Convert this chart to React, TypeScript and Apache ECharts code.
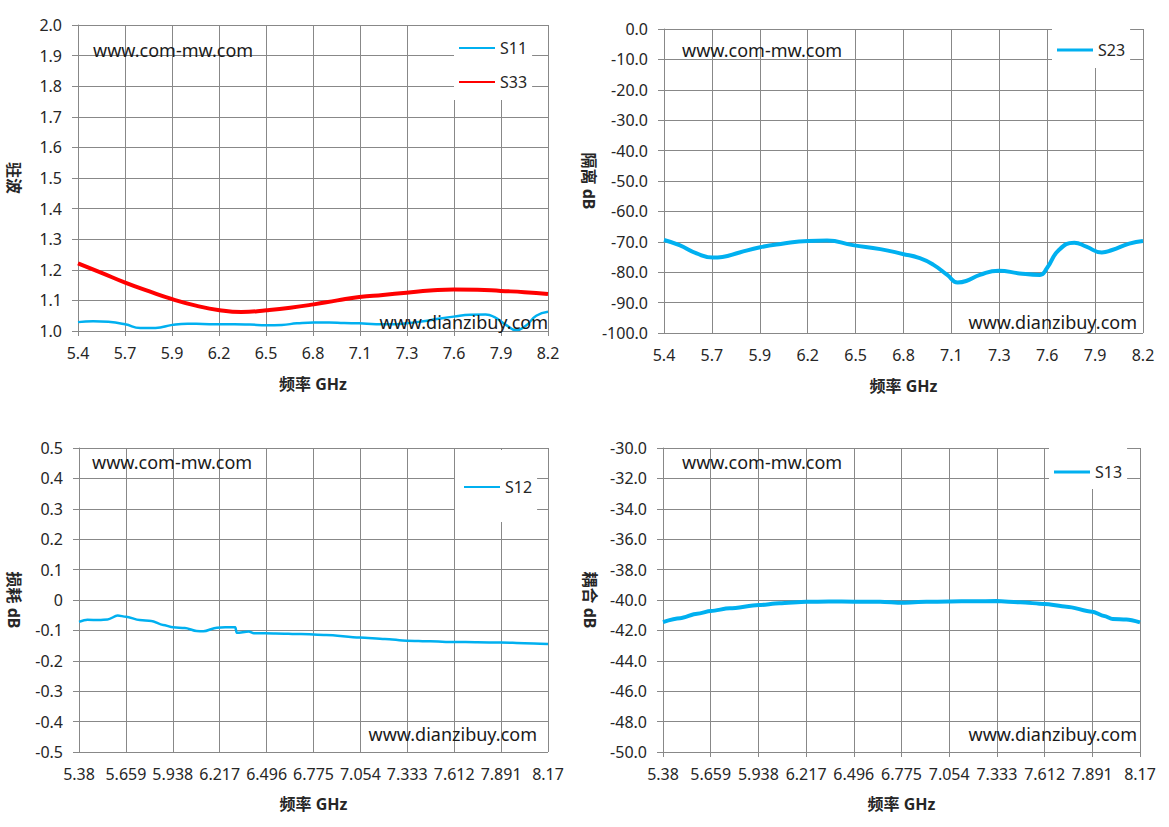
import React, { useEffect, useRef } from "react";
import * as echarts from "echarts";

// ---- data (frequency GHz, value) ----
const X0 = 5.38;
const X1 = 8.17;
const XSTEP = 0.279;

const s11Freq = [5.38, 5.47, 5.56, 5.66, 5.75, 5.84, 5.94, 6.03, 6.12, 6.22, 6.31, 6.4, 6.5, 6.59, 6.68, 6.78, 6.87, 6.96, 7.05, 7.15, 7.24, 7.33, 7.43, 7.52, 7.61, 7.71, 7.8, 7.85, 7.92, 7.98, 8.04, 8.1, 8.17];
const s11Vals = [1.029, 1.032, 1.03, 1.022, 1.01, 1.01, 1.02, 1.024, 1.023, 1.022, 1.022, 1.021, 1.019, 1.02, 1.025, 1.028, 1.028, 1.026, 1.025, 1.022, 1.022, 1.025, 1.032, 1.04, 1.047, 1.053, 1.054, 1.046, 1.02, 1.003, 1.018, 1.05, 1.063];

const s33Freq = [5.38, 5.52, 5.66, 5.8, 5.94, 6.08, 6.22, 6.35, 6.5, 6.64, 6.78, 6.92, 7.05, 7.19, 7.33, 7.47, 7.61, 7.75, 7.89, 8.03, 8.17];
const s33Vals = [1.221, 1.19, 1.158, 1.13, 1.104, 1.083, 1.068, 1.062, 1.068, 1.076, 1.087, 1.1, 1.111, 1.118, 1.125, 1.132, 1.136, 1.135, 1.131, 1.127, 1.121];

const s23Freq = [5.38, 5.47, 5.57, 5.665, 5.72, 5.82, 5.94, 6.06, 6.22, 6.33, 6.48, 6.64, 6.77, 6.87, 6.95, 7.03, 7.09, 7.14, 7.22, 7.33, 7.45, 7.57, 7.61, 7.68, 7.77, 7.84, 7.93, 7.99, 8.09, 8.17];
const s23Vals = [-69.4, -71.1, -73.8, -75.2, -75.0, -73.5, -71.8, -70.7, -69.7, -69.6, -71.1, -72.4, -74.0, -75.4, -77.6, -80.9, -83.4, -82.9, -80.9, -79.5, -80.4, -80.9, -78.7, -72.7, -70.3, -71.6, -73.5, -72.7, -70.6, -69.7];

const s12Freq = [5.38, 5.43, 5.5, 5.55, 5.61, 5.66, 5.74, 5.81, 5.88, 5.94, 6.01, 6.08, 6.12, 6.2, 6.25, 6.31, 6.318, 6.39, 6.42, 6.55, 6.7, 6.85, 7.05, 7.2, 7.33, 7.47, 7.61, 7.75, 7.89, 8.03, 8.17];
const s12Vals = [-0.072, -0.065, -0.066, -0.064, -0.051, -0.055, -0.066, -0.069, -0.082, -0.09, -0.092, -0.102, -0.103, -0.091, -0.09, -0.09, -0.108, -0.104, -0.109, -0.11, -0.112, -0.115, -0.123, -0.128, -0.134, -0.136, -0.138, -0.139, -0.14, -0.142, -0.145];

const s13Freq = [5.38, 5.48, 5.58, 5.66, 5.77, 5.94, 6.06, 6.22, 6.35, 6.5, 6.65, 6.78, 6.92, 7.05, 7.2, 7.33, 7.47, 7.61, 7.74, 7.89, 7.96, 8.01, 8.09, 8.17];
const s13Vals = [-41.45, -41.2, -40.9, -40.72, -40.55, -40.33, -40.22, -40.12, -40.1, -40.11, -40.11, -40.18, -40.12, -40.1, -40.08, -40.07, -40.15, -40.26, -40.44, -40.77, -41.05, -41.25, -41.28, -41.47];

const yTitles = ["驻波", "隔离 dB", "损耗 dB", "耦合 dB"];
const xTitle = "频率 GHz";
const watermarkTop = "www.com-mw.com";
const watermarkBottom = "www.dianzibuy.com";

const BLUE = "#00B0F0";
const RED = "#FF0000";
const GRID = "#888888";
const TXT = "#262626";
const FONT = "'Noto Sans', 'Noto Sans CJK SC', sans-serif";

const pts = (f: number[], v: number[]) => f.map((x, i) => [+(x - X0).toFixed(4), v[i]]);

const grids = [
  { left: 78, top: 25, width: 470, height: 306 },
  { left: 664, top: 29, width: 479, height: 304 },
  { left: 79, top: 448, width: 469, height: 304 },
  { left: 663, top: 448, width: 477, height: 304 },
];

export default function App() {
  const ref = useRef<HTMLDivElement>(null);
  useEffect(() => {
    if (!ref.current) return;
    const chart = echarts.init(ref.current, null, { renderer: "svg" });

    const xAxis = (i: number, decimals: boolean) => ({
      type: "value",
      gridIndex: i,
      min: 0,
      max: +(X1 - X0).toFixed(3),
      interval: XSTEP,
      name: xTitle,
      nameLocation: "middle",
      nameGap: i < 2 ? 45 : 44,
      nameTextStyle: { fontSize: 16, fontWeight: "bold", color: TXT, fontFamily: FONT },
      axisLine: { show: true, lineStyle: { color: GRID, width: 1 } },
      axisTick: { show: true, length: 5, lineStyle: { color: GRID } },
      splitLine: { show: true, lineStyle: { color: GRID, width: 1 } },
      axisLabel: {
        fontSize: 16,
        color: TXT,
        fontFamily: FONT,
        margin: 14,
        showMinLabel: true,
        showMaxLabel: true,
        hideOverlap: false,
        formatter: (v: number) =>
          decimals ? (X0 + v).toFixed(1) : String(parseFloat((X0 + v).toFixed(3))),
      },
    });

    const yAxis = (i: number, min: number, max: number, interval: number, gap: number, zeroPlain = false) => ({
      type: "value",
      gridIndex: i,
      min,
      max,
      interval,
      name: yTitles[i],
      nameLocation: "middle",
      nameRotate: -90,
      nameGap: gap,
      nameTextStyle: { fontSize: 16, fontWeight: "bold", color: TXT, fontFamily: FONT },
      axisLine: { show: true, lineStyle: { color: GRID, width: 1 } },
      axisTick: { show: true, length: 6, lineStyle: { color: GRID } },
      splitLine: { show: true, lineStyle: { color: GRID, width: 1 } },
      axisLabel: {
        fontSize: 16,
        color: TXT,
        fontFamily: FONT,
        margin: 16,
        formatter: (v: number) => (zeroPlain && Math.abs(v) < 1e-9 ? "0" : v.toFixed(1)),
      },
    });

    const lineSeries = (name: string, idx: number, data: number[][], color: string, width: number, monotone: boolean) => ({
      name,
      type: "line",
      xAxisIndex: idx,
      yAxisIndex: idx,
      data,
      symbol: "none",
      smooth: monotone ? 0.3 : 0.5,
      smoothMonotone: monotone ? "x" : undefined,
      lineStyle: { color, width },
      itemStyle: { color },
      z: 3,
    });

    const legendBase = {
      orient: "vertical",
      icon: "rect",
      itemWidth: 36,
      backgroundColor: "#ffffff",
      textStyle: { fontSize: 16, color: TXT, fontFamily: FONT, lineHeight: 20 },
      selectedMode: false,
      z: 5,
    };

    const wm = (x: number, y: number, text: string, align: string) => ({
      type: "text",
      x,
      y,
      z: 10,
      style: {
        text,
        fill: "#1a1a1a",
        font: `18px ${FONT}`,
        textAlign: align,
        textVerticalAlign: "middle",
      },
    });

    const option: any = {
      animation: false,
      backgroundColor: "#ffffff",
      grid: grids.map((g) => ({ ...g, containLabel: false })),
      xAxis: [xAxis(0, true), xAxis(1, true), xAxis(2, false), xAxis(3, false)],
      yAxis: [
        yAxis(0, 1.0, 2.0, 0.1, 56),
        yAxis(1, -100, 0, 10, 67),
        yAxis(2, -0.5, 0.5, 0.1, 57, true),
        yAxis(3, -50, -30, 2, 65),
      ],
      legend: [
        { ...legendBase, data: ["S11", "S33"], left: 454, top: 26, itemHeight: 2, itemGap: 14, padding: [12, 5, 8, 5] },
        { ...legendBase, data: ["S23"], left: 1052, top: 29, itemHeight: 3, padding: [11, 5, 8, 5] },
        { ...legendBase, data: ["S12"], left: 455, top: 450, itemHeight: 2, padding: [27, 5, 25, 9] },
        { ...legendBase, data: ["S13"], left: 1049, top: 448, itemHeight: 3, padding: [14, 5, 7, 5] },
      ],
      series: [
        lineSeries("S11", 0, pts(s11Freq, s11Vals), BLUE, 2.5, false),
        lineSeries("S33", 0, pts(s33Freq, s33Vals), RED, 4, false),
        lineSeries("S23", 1, pts(s23Freq, s23Vals), BLUE, 4, false),
        lineSeries("S12", 2, pts(s12Freq, s12Vals), BLUE, 2.5, true),
        lineSeries("S13", 3, pts(s13Freq, s13Vals), BLUE, 4, true),
      ],
      graphic: [
        wm(93, 50, watermarkTop, "left"),
        wm(548, 322, watermarkBottom, "right"),
        wm(682, 50, watermarkTop, "left"),
        wm(1137, 322, watermarkBottom, "right"),
        wm(92, 462, watermarkTop, "left"),
        wm(537, 734, watermarkBottom, "right"),
        wm(682, 462, watermarkTop, "left"),
        wm(1137, 734, watermarkBottom, "right"),
      ],
    };

    chart.setOption(option);
    return () => chart.dispose();
  }, []);

  return (
    <div
      ref={ref}
      style={{ position: "fixed", left: 0, top: 0, width: 1169, height: 827, background: "#fff" }}
    />
  );
}
